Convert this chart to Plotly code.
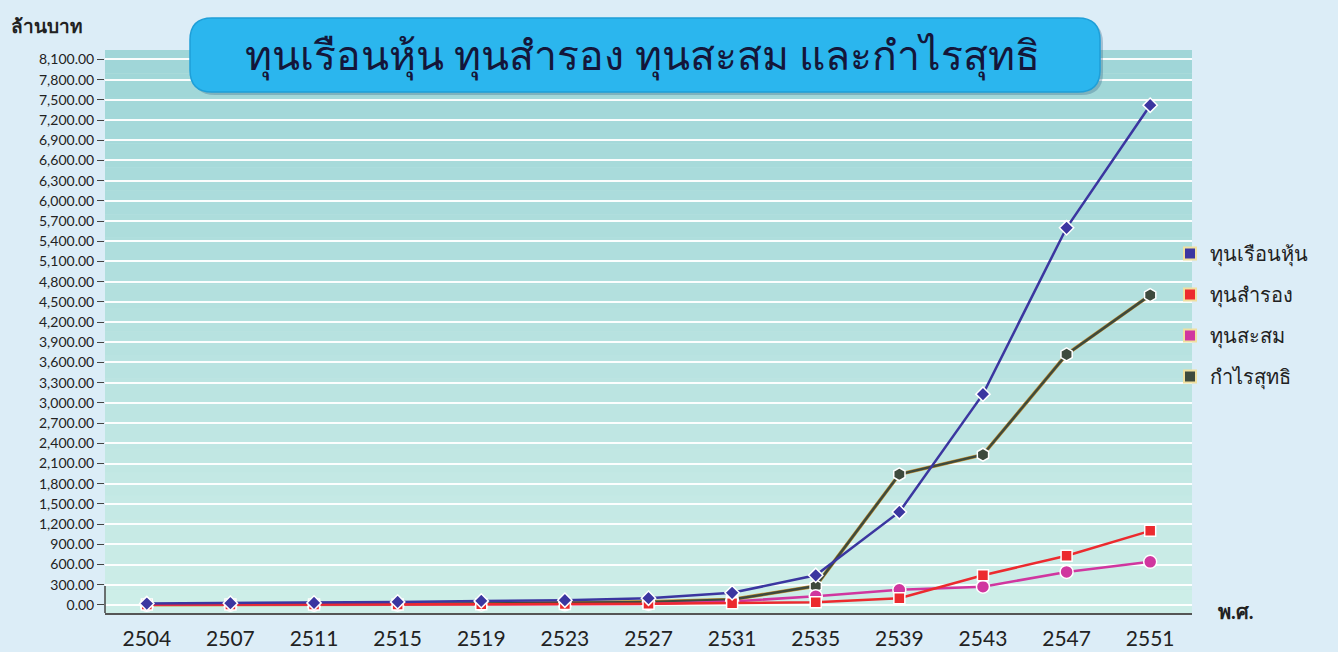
import plotly.graph_objects as go

years = ["2504", "2507", "2511", "2515", "2519", "2523", "2527", "2531", "2535", "2539", "2543", "2547", "2551"]
share_capital = [20, 25, 30, 45, 60, 70, 100, 180, 440, 1380, 3130, 5600, 7420]
reserve_fund = [5, 5, 6, 8, 10, 12, 18, 25, 40, 100, 440, 730, 1100]
accumulated_fund = [2, 3, 4, 6, 8, 10, 15, 50, 130, 225, 270, 490, 640]
net_profit = [3, 4, 6, 12, 22, 28, 45, 80, 280, 1940, 2230, 3720, 4600]

series_names = ["ทุนเรือนหุ้น", "ทุนสำรอง", "ทุนสะสม", "กำไรสุทธิ"]
series_values = [share_capital, reserve_fund, accumulated_fund, net_profit]
colors = ["#3b36a0", "#ec2a2e", "#d0369f", "#3e4a3d"]
symbols = ["diamond", "square", "circle", "hexagon"]
sizes = [11, 11, 13, 13]

y_ticks = list(range(0, 8101, 300))
y_ticktext = [f"{v:,.2f}" for v in y_ticks]

title_text = "ทุนเรือนหุ้น ทุนสำรอง ทุนสะสม และกำไรสุทธิ"

W, H = 1338, 652
ML, MR, MT, MB = 105, 146, 50, 39
PW, PH = W - ML - MR, H - MT - MB


def px(x):
    return (x - ML) / PW


def py(y):
    return (H - MB - y) / PH


fig = go.Figure()

# background gradient for plot area
n = 24
shapes = []
for i in range(n):
    t = i / (n - 1)
    r = int(160 + (205 - 160) * t)
    g = int(214 + (238 - 214) * t)
    b = int(216 + (232 - 216) * t)
    shapes.append(dict(type="rect", xref="paper", yref="paper",
                       x0=0, x1=1, y0=1 - (i + 1) / n, y1=1 - i / n,
                       fillcolor=f"rgb({r},{g},{b})", line=dict(width=0), layer="below"))


def rounded(x0, y0, x1, y1, rad):
    return (f"M {px(x0+rad)},{py(y0)} L {px(x1-rad)},{py(y0)} "
            f"Q {px(x1)},{py(y0)} {px(x1)},{py(y0+rad)} L {px(x1)},{py(y1-rad)} "
            f"Q {px(x1)},{py(y1)} {px(x1-rad)},{py(y1)} L {px(x0+rad)},{py(y1)} "
            f"Q {px(x0)},{py(y1)} {px(x0)},{py(y1-rad)} L {px(x0)},{py(y0+rad)} "
            f"Q {px(x0)},{py(y0)} {px(x0+rad)},{py(y0)} Z")


shapes.append(dict(type="path", xref="paper", yref="paper", path=rounded(193, 21, 1103, 95, 22),
                   fillcolor="rgba(60,110,140,0.35)", line=dict(width=0), layer="above"))
shapes.append(dict(type="path", xref="paper", yref="paper", path=rounded(190, 18, 1100, 92, 22),
                   fillcolor="#2bb6ee", line=dict(color="#1f9fd8", width=1.5), layer="above"))

# short left axis stub
shapes.append(dict(type="line", xref="paper", yref="y", x0=0, x1=0, y0=-120, y1=280,
                   line=dict(color="#444", width=1.5)))

# draw order: net profit at bottom, share capital on top
for idx in [3, 2, 1, 0]:
    name, vals, c, s, sz = series_names[idx], series_values[idx], colors[idx], symbols[idx], sizes[idx]
    if idx == 3:
        fig.add_trace(go.Scatter(
            x=years, y=vals, mode="lines", showlegend=False, hoverinfo="skip",
            line=dict(color="#c79232", width=3.6)))
    fig.add_trace(go.Scatter(
        x=years, y=vals, mode="lines+markers", name=name, showlegend=False,
        line=dict(color=c, width=2.5),
        marker=dict(symbol=s, size=sz, color=c, line=dict(color="white", width=1.5)),
        cliponaxis=False,
    ))

for i, (name, c) in enumerate(zip(series_names, colors)):
    fig.add_trace(go.Scatter(
        x=[None], y=[None], mode="markers", name=name, legendgroup=f"g{i}",
        marker=dict(symbol="square", size=17, color=c, line=dict(color="#f0e0a0", width=1)),
    ))

fig.update_layout(
    width=W, height=H,
    margin=dict(l=ML, r=MR, t=MT, b=MB, autoexpand=False),
    paper_bgcolor="#dcedf7",
    plot_bgcolor="#bfe5e3",
    font=dict(family="Lato, 'Noto Sans', 'DejaVu Sans', sans-serif", color="#222"),
    shapes=shapes,
    showlegend=True,
    legend=dict(x=px(1170), y=py(234), xanchor="left", yanchor="top",
                font=dict(size=20, color="#222"), tracegroupgap=12,
                bgcolor="rgba(0,0,0,0)", itemsizing="constant"),
    xaxis=dict(type="category", range=[-0.5, 12.5], showgrid=False, automargin=False,
               showline=True, linecolor="#555", linewidth=1.5,
               ticks="", tickfont=dict(size=21, color="#222"), ticklabelstandoff=6),
    yaxis=dict(range=[-120, 8240], tickvals=y_ticks, ticktext=y_ticktext, automargin=False,
               showgrid=True, gridcolor="rgba(255,255,255,0.95)", gridwidth=2,
               zeroline=False, showline=False,
               ticks="outside", ticklen=7, tickcolor="#444", tickwidth=1.2,
               tickfont=dict(size=14, color="#222")),
    annotations=[
        dict(text=title_text, xref="paper", yref="paper", x=px(643), y=py(55),
             showarrow=False, font=dict(size=41, color="#14163a"), xanchor="center", yanchor="middle"),
        dict(text="<b>ล้านบาท</b>", xref="paper", yref="paper", x=px(9), y=py(26),
             showarrow=False, font=dict(size=19, color="#222"), xanchor="left", yanchor="middle"),
        dict(text="<b>พ.ศ.</b>", xref="paper", yref="paper", x=px(1216), y=py(611),
             showarrow=False, font=dict(size=20, color="#222"), xanchor="left", yanchor="middle"),
    ],
)

fig.write_html("out.html", config={"displayModeBar": False},
               post_script="document.body.style.margin='0';document.body.style.overflow='hidden';")
